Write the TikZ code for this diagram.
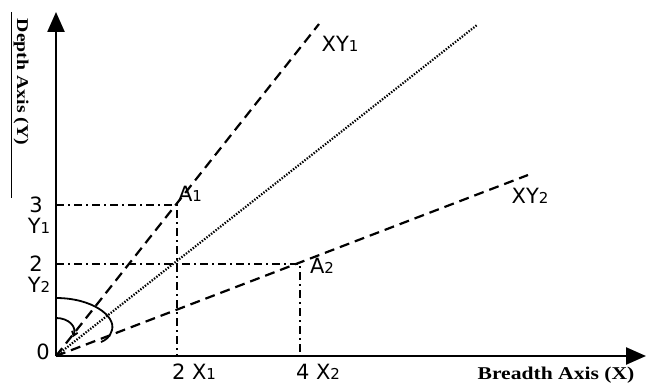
\documentclass[tikz,border=0pt]{standalone}
\usepackage{fontspec}
\usepackage{graphicx}
\setmainfont{DejaVu Sans}
\newfontfamily\axisfont{Liberation Serif}
\usetikzlibrary{arrows.meta}
\newcommand{\sbs}[1]{{\fontsize{15}{16}\selectfont #1}}
\newcommand{\widetxt}[1]{\scalebox{1.2}[1]{#1}}
\tikzset{
  axisline/.style={line width=2.4pt,-{Triangle[length=20pt,width=17pt]}},
  rayline/.style={line width=2.2pt,dash pattern=on 10pt off 6pt},
  dotline/.style={line width=2.2pt,dash pattern=on 1.4pt off 1.5pt},
  guide/.style={line width=1.7pt,dash pattern=on 8pt off 4pt on 2pt off 4pt},
  lbl/.style={font=\fontsize{21}{24}\selectfont,inner sep=0pt},
  axlbl/.style={font=\axisfont\bfseries\fontsize{18}{20}\selectfont,inner sep=0pt},
  axlbly/.style={font=\axisfont\bfseries\fontsize{16.5}{18}\selectfont,inner sep=0pt}
  ,anglearc/.style={line width=1.8pt}
}
\begin{document}
\begin{tikzpicture}[x=1pt,y=-1pt]
\useasboundingbox (0,0) rectangle (647,385);
% coordinates
\coordinate (O) at (56,356);
\coordinate (Ytop) at (56,12);
\coordinate (Xend) at (646,356);
\coordinate (A1) at (177,205);
\coordinate (A2) at (300,264);
\coordinate (C) at (177,264);
\coordinate (E1) at (319,24);
\coordinate (E0) at (477,25);
\coordinate (E2) at (528,175);
\coordinate (F1) at (177,356);
\coordinate (F2) at (300,356);
\coordinate (L3) at (56,205);
\coordinate (L2) at (56,264);
\coordinate (S1) at (11,12);
\coordinate (S2) at (11,198);
% side rule
\draw[line width=0.8pt] (S1) -- (S2);
% guides
\draw[guide] (L3) -- (A1) -- (F1);
\draw[guide] (L2) -- (A2) -- (F2);
% rays
\draw[rayline] (O) -- (E1);
\draw[rayline] (O) -- (E2);
\draw[dotline] (O) -- (E0);
% angle arcs
\draw[anglearc] (56,298) .. controls (92,298) and (116,316) .. (112,330) .. controls (110,337) and (106,340) .. (101,342);
\draw[anglearc,-{Straight Barb[length=4pt,width=6pt]}] (56,318) .. controls (68,318) and (77,326) .. (73,337);
% axes
\draw[axisline] (O) -- (Ytop);
\draw[axisline] (O) -- (Xend);
% labels
\node[axlbly,rotate=-90] (ylab) at (21,82) {\widetxt{Depth Axis (Y)}};
\node[axlbl] (xlab) at (556,375) {\widetxt{Breadth Axis (X)}};
\node[lbl] (n3) at (36,205) {3};
\node[lbl] (ny1) at (39,226) {Y\sbs{1}};
\node[lbl] (n2) at (36,264) {2};
\node[lbl] (ny2) at (39,285) {Y\sbs{2}};
\node[lbl] (n0) at (43,352) {0};
\node[lbl] (nx1) at (194,372) {2 X\sbs{1}};
\node[lbl] (nx2) at (318,372) {4 X\sbs{2}};
\node[lbl] (na1) at (190,194) {A\sbs{1}};
\node[lbl] (na2) at (322,266) {A\sbs{2}};
\node[lbl] (nxy1) at (340,44) {XY\sbs{1}};
\node[lbl] (nxy2) at (530,196) {XY\sbs{2}};
\end{tikzpicture}
\end{document}
